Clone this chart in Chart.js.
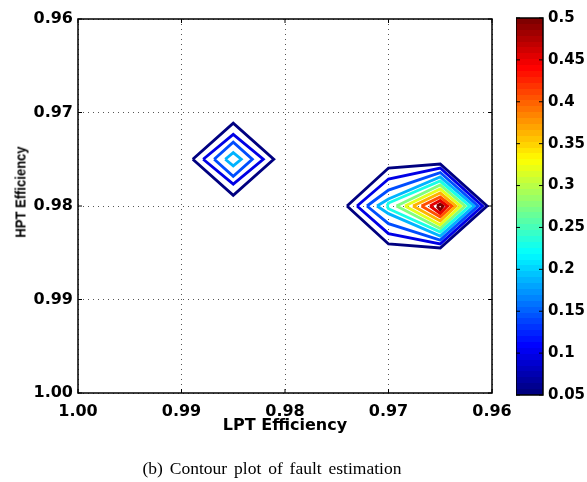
<!DOCTYPE html>
<html>
<head>
<meta charset="utf-8">
<script src="https://cdn.jsdelivr.net/npm/chart.js@4"></script>
<style>
  body { margin: 0; background: #fff; width: 587px; height: 482px; position: relative; overflow: hidden; }
  #main { position: absolute; left: 0; top: 0; }
  #bar { position: absolute; left: 516px; top: 0; }
  #ytitle { position: absolute; left: 20px; top: 192px; white-space: nowrap;
            transform: translate(-50%, -50%) rotate(-90deg) scale(0.87, 1);
            font: bold 15px "Liberation Sans", Arial, sans-serif; color: #000; }
  #caption { position: absolute; left: 0; width: 544px; top: 458px; text-align: center;
             font: 17.5px "Liberation Serif", serif; word-spacing: 2.5px; color: #000; }
</style>
</head>
<body>
<canvas id="main" width="587" height="482"></canvas>
<canvas id="bar" width="71" height="482"></canvas>
<div id="ytitle">HPT Efficiency</div>
<div id="caption">(b) Contour plot of fault estimation</div>
<script>
const levels = [0.05, 0.095, 0.14, 0.185, 0.23, 0.275, 0.32, 0.365, 0.41, 0.455, 0.5];
const axisTicks = [0.96, 0.97, 0.98, 0.99, 1.00];
const barTicks = [0.05, 0.1, 0.15, 0.2, 0.25, 0.3, 0.35, 0.4, 0.45, 0.5];

// rings around the small peak (LPT 0.985, HPT 0.975), outer to inner
const smallRings = [
  [[0.98891, 0.975], [0.985, 0.97115], [0.98109, 0.975], [0.985, 0.97885]],
  [[0.98790, 0.975], [0.985, 0.97233], [0.98210, 0.975], [0.985, 0.97767]],
  [[0.98684, 0.975], [0.985, 0.97318], [0.98316, 0.975], [0.985, 0.97682]],
  [[0.98577, 0.975], [0.985, 0.97430], [0.98423, 0.975], [0.985, 0.97570]]
];

// rings around the big peak (LPT 0.965, HPT 0.98), outer to inner
const bigRings = [
  [[0.97401, 0.98], [0.97, 0.97594], [0.965, 0.97551], [0.96048, 0.98], [0.965, 0.98449], [0.97, 0.98406]],
  [[0.97304, 0.98], [0.97, 0.97711], [0.965, 0.97594], [0.96092, 0.98], [0.965, 0.98406], [0.97, 0.98296]],
  [[0.97208, 0.98], [0.97, 0.97829], [0.965, 0.97642], [0.96135, 0.98], [0.965, 0.98364], [0.97, 0.98189]],
  [[0.97111, 0.98], [0.97, 0.97925], [0.965, 0.97690], [0.96174, 0.98], [0.965, 0.98321], [0.97, 0.98082]],
  [[0.97014, 0.98], [0.97, 0.97968], [0.965, 0.97733], [0.96217, 0.98], [0.965, 0.98278], [0.97, 0.98029]],
  [[0.96923, 0.98], [0.965, 0.97775], [0.96261, 0.98], [0.965, 0.98241]],
  [[0.96841, 0.98], [0.965, 0.97818], [0.96304, 0.98], [0.965, 0.98203]],
  [[0.96763, 0.98], [0.965, 0.97861], [0.96348, 0.98], [0.965, 0.98160]],
  [[0.96681, 0.98], [0.965, 0.97904], [0.96386, 0.98], [0.965, 0.98118]],
  [[0.96599, 0.98], [0.965, 0.97941], [0.96430, 0.98], [0.965, 0.98080]],
  [[0.96531, 0.98], [0.965, 0.97979], [0.96473, 0.98], [0.965, 0.98043]]
];

function jet(v) {
  const t = (v - 0.05) / 0.45;
  const c = a => Math.round(255 * Math.max(0, Math.min(1, a)));
  return 'rgb(' + c(Math.min(4 * t - 1.5, -4 * t + 4.5)) + ',' +
                  c(Math.min(4 * t - 0.5, -4 * t + 3.5)) + ',' +
                  c(Math.min(4 * t + 0.5, -4 * t + 2.5)) + ')';
}

function ringSet(ring, i) {
  const pts = ring.concat([ring[0]]).map(p => ({ x: p[0], y: p[1] }));
  return {
    data: pts, showLine: true, pointRadius: 0, borderWidth: 2.9,
    borderColor: jet(levels[i]), borderJoinStyle: 'miter', tension: 0
  };
}

const tickFont = { family: '"DejaVu Sans", sans-serif', size: 16, weight: 'bold' };

const boxPlugin = {
  id: 'box',
  afterDraw(chart, args, opts) {
    const { ctx, chartArea: a } = chart;
    ctx.save();
    ctx.strokeStyle = '#000';
    ctx.lineWidth = 1.5;
    ctx.strokeRect(a.left, a.top, a.right - a.left, a.bottom - a.top);
    ctx.lineWidth = 1;
    const len = opts.len || 4;
    if (opts.x) {
      for (const v of axisTicks) {
        const px = chart.scales.x.getPixelForValue(v);
        ctx.beginPath();
        ctx.moveTo(px, a.bottom); ctx.lineTo(px, a.bottom - len);
        ctx.moveTo(px, a.top); ctx.lineTo(px, a.top + len);
        ctx.stroke();
      }
    }
    const ys = opts.x ? axisTicks : barTicks;
    for (const v of ys) {
      const py = chart.scales.y.getPixelForValue(v);
      ctx.beginPath();
      ctx.moveTo(a.left, py); ctx.lineTo(a.left + len, py);
      ctx.moveTo(a.right, py); ctx.lineTo(a.right - len, py);
      ctx.stroke();
    }
    ctx.restore();
  }
};

const datasets = smallRings.map(ringSet).concat(bigRings.map(ringSet));

new Chart(document.getElementById('main'), {
  type: 'scatter',
  data: { datasets },
  plugins: [boxPlugin],
  options: {
    responsive: false,
    animation: false,
    layout: { padding: { top: 19, right: 95, bottom: 47, left: 0 } },
    plugins: { legend: { display: false }, tooltip: { enabled: false }, box: { x: true, len: 4 } },
    scales: {
      x: {
        type: 'linear', min: 0.96, max: 1.0, reverse: true,
        afterBuildTicks: s => { s.ticks = axisTicks.map(v => ({ value: v })); },
        afterFit: s => { s.height = 42; },
        ticks: { font: tickFont, color: '#000', padding: 9, maxRotation: 0, callback: v => v.toFixed(2) },
        grid: { color: '#555', lineWidth: 1, drawTicks: false },
        border: { display: false, dash: [1, 4] },
        title: { display: true, text: 'LPT Efficiency', color: '#000', padding: 0,
                 font: { family: '"DejaVu Sans", sans-serif', size: 16, weight: 'bold' } }
      },
      y: {
        type: 'linear', min: 0.96, max: 1.0, reverse: true,
        afterBuildTicks: s => { s.ticks = axisTicks.map(v => ({ value: v })); },
        afterFit: s => { s.width = 78; },
        ticks: { font: tickFont, color: '#000', padding: 5, callback: v => v.toFixed(2) },
        grid: { color: '#555', lineWidth: 1, drawTicks: false },
        border: { display: false, dash: [1, 4] }
      }
    }
  }
});

function barFill(c) {
  const a = c.chart.chartArea;
  if (!a) return null;
  const g = c.chart.ctx.createLinearGradient(0, a.bottom, 0, a.top);
  for (let i = 0; i < 64; i++) {
    const col = jet(0.05 + 0.45 * i / 63);
    g.addColorStop(i / 64, col);
    g.addColorStop((i + 1) / 64, col);
  }
  return g;
}

new Chart(document.getElementById('bar'), {
  type: 'bar',
  data: {
    labels: ['level'],
    datasets: [{ data: [[barTicks[0], barTicks[barTicks.length - 1]]], backgroundColor: barFill,
                 borderWidth: 0, barPercentage: 1, categoryPercentage: 1 }]
  },
  plugins: [boxPlugin],
  options: {
    responsive: false,
    animation: false,
    layout: { padding: { top: 18, right: 0, bottom: 87, left: 0 } },
    plugins: { legend: { display: false }, tooltip: { enabled: false }, box: { x: false, len: 4 } },
    scales: {
      x: { display: false },
      y: {
        position: 'right', min: 0.05, max: 0.5,
        afterBuildTicks: s => { s.ticks = barTicks.map(v => ({ value: v })); },
        afterFit: s => { s.width = 44; },
        ticks: { font: { family: '"DejaVu Sans", sans-serif', size: 15, weight: 'bold' },
                 color: '#000', padding: 5, callback: v => String(v) },
        grid: { display: false, drawTicks: false },
        border: { display: false }
      }
    }
  }
});
</script>
</body>
</html>
